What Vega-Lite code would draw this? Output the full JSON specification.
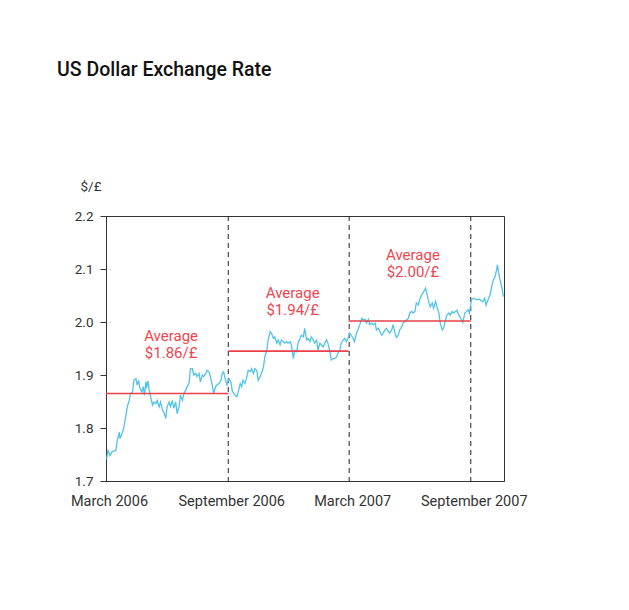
{
  "$schema": "https://vega.github.io/schema/vega-lite/v6.json",
  "autosize": "none",
  "width": 398,
  "height": 265,
  "padding": {"left": 106, "top": 216, "right": 125, "bottom": 129},
  "background": "white",
  "title": {
    "text": "US Dollar Exchange Rate",
    "anchor": "start",
    "frame": "group",
    "dx": -49,
    "offset": 99,
    "font": "Roboto",
    "fontSize": 19.5,
    "fontWeight": 500,
    "color": "#111111"
  },
  "config": {
    "view": {"stroke": "#333333", "strokeWidth": 1},
    "font": "Roboto",
    "axis": {
      "domainColor": "#333333",
      "tickColor": "#333333",
      "labelColor": "#333333",
      "labelFont": "Roboto",
      "labelFontSize": 13.5,
      "grid": false
    }
  },
  "datasets": {
    "rate": [
      {"day": 1, "rate": 1.741}, {"day": 3, "rate": 1.759}, {"day": 6, "rate": 1.748}, {"day": 9, "rate": 1.755},
      {"day": 15, "rate": 1.758}, {"day": 17, "rate": 1.777}, {"day": 20, "rate": 1.792}, {"day": 21, "rate": 1.780},
      {"day": 25, "rate": 1.792}, {"day": 27, "rate": 1.802}, {"day": 30, "rate": 1.824}, {"day": 32, "rate": 1.840},
      {"day": 35, "rate": 1.852}, {"day": 37, "rate": 1.865}, {"day": 40, "rate": 1.868}, {"day": 42, "rate": 1.890},
      {"day": 45, "rate": 1.893}, {"day": 47, "rate": 1.881}, {"day": 49, "rate": 1.890}, {"day": 51, "rate": 1.875},
      {"day": 54, "rate": 1.868}, {"day": 56, "rate": 1.878}, {"day": 58, "rate": 1.862}, {"day": 60, "rate": 1.887},
      {"day": 61, "rate": 1.875}, {"day": 63, "rate": 1.889}, {"day": 65, "rate": 1.871}, {"day": 67, "rate": 1.860},
      {"day": 70, "rate": 1.843}, {"day": 72, "rate": 1.849}, {"day": 75, "rate": 1.846}, {"day": 77, "rate": 1.852},
      {"day": 80, "rate": 1.840}, {"day": 82, "rate": 1.849}, {"day": 85, "rate": 1.834}, {"day": 87, "rate": 1.830},
      {"day": 90, "rate": 1.818}, {"day": 92, "rate": 1.840}, {"day": 95, "rate": 1.849}, {"day": 97, "rate": 1.840},
      {"day": 100, "rate": 1.852}, {"day": 102, "rate": 1.837}, {"day": 105, "rate": 1.849}, {"day": 107, "rate": 1.827},
      {"day": 110, "rate": 1.840}, {"day": 112, "rate": 1.862}, {"day": 115, "rate": 1.852}, {"day": 117, "rate": 1.865},
      {"day": 120, "rate": 1.871}, {"day": 122, "rate": 1.878}, {"day": 125, "rate": 1.884}, {"day": 127, "rate": 1.912},
      {"day": 130, "rate": 1.912}, {"day": 132, "rate": 1.900}, {"day": 135, "rate": 1.903}, {"day": 137, "rate": 1.897},
      {"day": 140, "rate": 1.903}, {"day": 142, "rate": 1.887}, {"day": 145, "rate": 1.900}, {"day": 147, "rate": 1.897},
      {"day": 150, "rate": 1.903}, {"day": 152, "rate": 1.909}, {"day": 155, "rate": 1.906}, {"day": 157, "rate": 1.897},
      {"day": 160, "rate": 1.881}, {"day": 162, "rate": 1.865}, {"day": 165, "rate": 1.878}, {"day": 167, "rate": 1.881},
      {"day": 170, "rate": 1.884}, {"day": 173, "rate": 1.890}, {"day": 175, "rate": 1.903}, {"day": 177, "rate": 1.906},
      {"day": 180, "rate": 1.890}, {"day": 182, "rate": 1.881}, {"day": 185, "rate": 1.893}, {"day": 188, "rate": 1.887},
      {"day": 190, "rate": 1.870}, {"day": 194, "rate": 1.862}, {"day": 197, "rate": 1.859}, {"day": 199, "rate": 1.868},
      {"day": 202, "rate": 1.884}, {"day": 204, "rate": 1.878}, {"day": 206, "rate": 1.890}, {"day": 209, "rate": 1.884},
      {"day": 212, "rate": 1.897}, {"day": 214, "rate": 1.909}, {"day": 217, "rate": 1.906}, {"day": 219, "rate": 1.912},
      {"day": 222, "rate": 1.903}, {"day": 224, "rate": 1.912}, {"day": 227, "rate": 1.909}, {"day": 229, "rate": 1.890},
      {"day": 232, "rate": 1.897}, {"day": 234, "rate": 1.903}, {"day": 237, "rate": 1.915}, {"day": 239, "rate": 1.934},
      {"day": 242, "rate": 1.947}, {"day": 244, "rate": 1.966}, {"day": 247, "rate": 1.982}, {"day": 249, "rate": 1.979},
      {"day": 252, "rate": 1.969}, {"day": 254, "rate": 1.972}, {"day": 257, "rate": 1.960}, {"day": 259, "rate": 1.966},
      {"day": 262, "rate": 1.957}, {"day": 264, "rate": 1.966}, {"day": 267, "rate": 1.963}, {"day": 269, "rate": 1.960},
      {"day": 272, "rate": 1.963}, {"day": 274, "rate": 1.960}, {"day": 277, "rate": 1.963}, {"day": 279, "rate": 1.957},
      {"day": 282, "rate": 1.931}, {"day": 284, "rate": 1.947}, {"day": 287, "rate": 1.944}, {"day": 289, "rate": 1.960},
      {"day": 292, "rate": 1.969}, {"day": 294, "rate": 1.975}, {"day": 297, "rate": 1.972}, {"day": 299, "rate": 1.988},
      {"day": 302, "rate": 1.966}, {"day": 304, "rate": 1.969}, {"day": 307, "rate": 1.963}, {"day": 309, "rate": 1.972},
      {"day": 312, "rate": 1.966}, {"day": 314, "rate": 1.960}, {"day": 317, "rate": 1.966}, {"day": 319, "rate": 1.947},
      {"day": 322, "rate": 1.960}, {"day": 324, "rate": 1.957}, {"day": 327, "rate": 1.953}, {"day": 329, "rate": 1.960},
      {"day": 332, "rate": 1.966}, {"day": 334, "rate": 1.960}, {"day": 337, "rate": 1.944}, {"day": 339, "rate": 1.928},
      {"day": 342, "rate": 1.931}, {"day": 344, "rate": 1.931}, {"day": 347, "rate": 1.934}, {"day": 349, "rate": 1.941},
      {"day": 352, "rate": 1.947}, {"day": 354, "rate": 1.960}, {"day": 357, "rate": 1.966}, {"day": 359, "rate": 1.969},
      {"day": 362, "rate": 1.963}, {"day": 364, "rate": 1.969}, {"day": 367, "rate": 1.979}, {"day": 369, "rate": 1.975},
      {"day": 372, "rate": 1.969}, {"day": 374, "rate": 1.963}, {"day": 377, "rate": 1.979}, {"day": 379, "rate": 1.985},
      {"day": 382, "rate": 1.995}, {"day": 385, "rate": 2.007}, {"day": 387, "rate": 2.004}, {"day": 390, "rate": 2.005},
      {"day": 392, "rate": 1.998}, {"day": 395, "rate": 2.005}, {"day": 397, "rate": 1.995}, {"day": 400, "rate": 1.998},
      {"day": 402, "rate": 1.995}, {"day": 405, "rate": 1.998}, {"day": 407, "rate": 1.985}, {"day": 410, "rate": 1.988},
      {"day": 412, "rate": 1.982}, {"day": 415, "rate": 1.975}, {"day": 417, "rate": 1.979}, {"day": 420, "rate": 1.985},
      {"day": 422, "rate": 1.988}, {"day": 425, "rate": 1.982}, {"day": 427, "rate": 1.979}, {"day": 430, "rate": 1.985},
      {"day": 432, "rate": 1.995}, {"day": 435, "rate": 1.979}, {"day": 437, "rate": 1.971}, {"day": 440, "rate": 1.975},
      {"day": 442, "rate": 1.985}, {"day": 445, "rate": 1.991}, {"day": 447, "rate": 1.998}, {"day": 450, "rate": 2.001},
      {"day": 452, "rate": 2.004}, {"day": 455, "rate": 2.007}, {"day": 457, "rate": 2.017}, {"day": 460, "rate": 2.020},
      {"day": 462, "rate": 2.017}, {"day": 465, "rate": 2.020}, {"day": 467, "rate": 2.036}, {"day": 470, "rate": 2.032},
      {"day": 472, "rate": 2.042}, {"day": 475, "rate": 2.051}, {"day": 477, "rate": 2.055}, {"day": 480, "rate": 2.061},
      {"day": 481, "rate": 2.064}, {"day": 484, "rate": 2.048}, {"day": 486, "rate": 2.036}, {"day": 488, "rate": 2.029},
      {"day": 491, "rate": 2.036}, {"day": 493, "rate": 2.026}, {"day": 496, "rate": 2.039}, {"day": 498, "rate": 2.029},
      {"day": 501, "rate": 2.017}, {"day": 503, "rate": 1.998}, {"day": 506, "rate": 1.985}, {"day": 508, "rate": 1.988},
      {"day": 511, "rate": 2.004}, {"day": 513, "rate": 2.013}, {"day": 516, "rate": 2.017}, {"day": 518, "rate": 2.013},
      {"day": 521, "rate": 2.020}, {"day": 523, "rate": 2.017}, {"day": 526, "rate": 2.020}, {"day": 528, "rate": 2.022},
      {"day": 531, "rate": 2.013}, {"day": 533, "rate": 2.009}, {"day": 536, "rate": 2.001}, {"day": 537, "rate": 1.999},
      {"day": 540, "rate": 2.017}, {"day": 543, "rate": 2.020}, {"day": 545, "rate": 2.023}, {"day": 547, "rate": 2.017},
      {"day": 550, "rate": 2.042}, {"day": 553, "rate": 2.045}, {"day": 558, "rate": 2.042}, {"day": 562, "rate": 2.043},
      {"day": 567, "rate": 2.038}, {"day": 570, "rate": 2.045}, {"day": 572, "rate": 2.032}, {"day": 575, "rate": 2.042},
      {"day": 578, "rate": 2.051}, {"day": 580, "rate": 2.064}, {"day": 583, "rate": 2.080}, {"day": 585, "rate": 2.083},
      {"day": 588, "rate": 2.099}, {"day": 589, "rate": 2.108}, {"day": 592, "rate": 2.086}, {"day": 594, "rate": 2.074},
      {"day": 596, "rate": 2.064}, {"day": 598, "rate": 2.048}
    ],
    "averages": [
      {"start": 0, "end": 184, "avg": 1.865, "labelDay": 98, "labelY": 1.973, "label": "Average\n$1.86/£"},
      {"start": 184, "end": 365, "avg": 1.945, "labelDay": 281, "labelY": 2.054, "label": "Average\n$1.94/£"},
      {"start": 365, "end": 549, "avg": 2.002, "labelDay": 462, "labelY": 2.126, "label": "Average\n$2.00/£"}
    ],
    "dividers": [{"day": 184}, {"day": 366}, {"day": 549}]
  },
  "layer": [
    {
      "data": {"name": "dividers"},
      "mark": {"type": "rule", "color": "#222222", "strokeWidth": 1, "strokeDash": [5, 4]},
      "encoding": {
        "x": {"field": "day", "type": "quantitative", "scale": {"domain": [0, 599], "nice": false, "zero": false},
          "axis": {
            "title": null,
            "values": [0, 184, 366, 549],
            "labelExpr": "datum.value == 0 ? 'March 2006' : datum.value == 184 ? 'September 2006' : datum.value == 366 ? 'March 2007' : 'September 2007'",
            "ticks": false,
            "labelPadding": 13,
            "labelFlush": false,
            "labelOffset": 3,
            "labelOverlap": false,
            "labelFontSize": 14.5
          }
        }
      }
    },
    {
      "data": {"name": "rate"},
      "mark": {"type": "line", "color": "#52c3e8", "strokeWidth": 1.3},
      "encoding": {
        "x": {"field": "day", "type": "quantitative"},
        "y": {"field": "rate", "type": "quantitative", "scale": {"domain": [1.7, 2.2], "nice": false, "zero": false},
          "axis": {
            "title": "$/£",
            "titleAngle": 0,
            "titleX": -26,
            "titleY": -30,
            "titleAlign": "left",
            "titleBaseline": "middle",
            "titleFont": "Roboto",
            "titleFontSize": 13.5,
            "titleFontWeight": "normal",
            "titleColor": "#333333",
            "values": [1.7, 1.8, 1.9, 2.0, 2.1, 2.2],
            "format": ".1f",
            "tickSize": 6,
            "labelPadding": 7
          }
        }
      }
    },
    {
      "data": {"name": "averages"},
      "mark": {"type": "rule", "color": "#e8414a", "strokeWidth": 1.6},
      "encoding": {
        "x": {"field": "start", "type": "quantitative"},
        "x2": {"field": "end"},
        "y": {"field": "avg", "type": "quantitative"}
      }
    },
    {
      "data": {"name": "averages"},
      "mark": {"type": "text", "color": "#ee4650", "fontSize": 15, "lineBreak": "\n", "lineHeight": 17, "align": "center", "baseline": "middle", "font": "Roboto"},
      "encoding": {
        "x": {"field": "labelDay", "type": "quantitative"},
        "y": {"field": "labelY", "type": "quantitative"},
        "text": {"field": "label"}
      }
    }
  ]
}
